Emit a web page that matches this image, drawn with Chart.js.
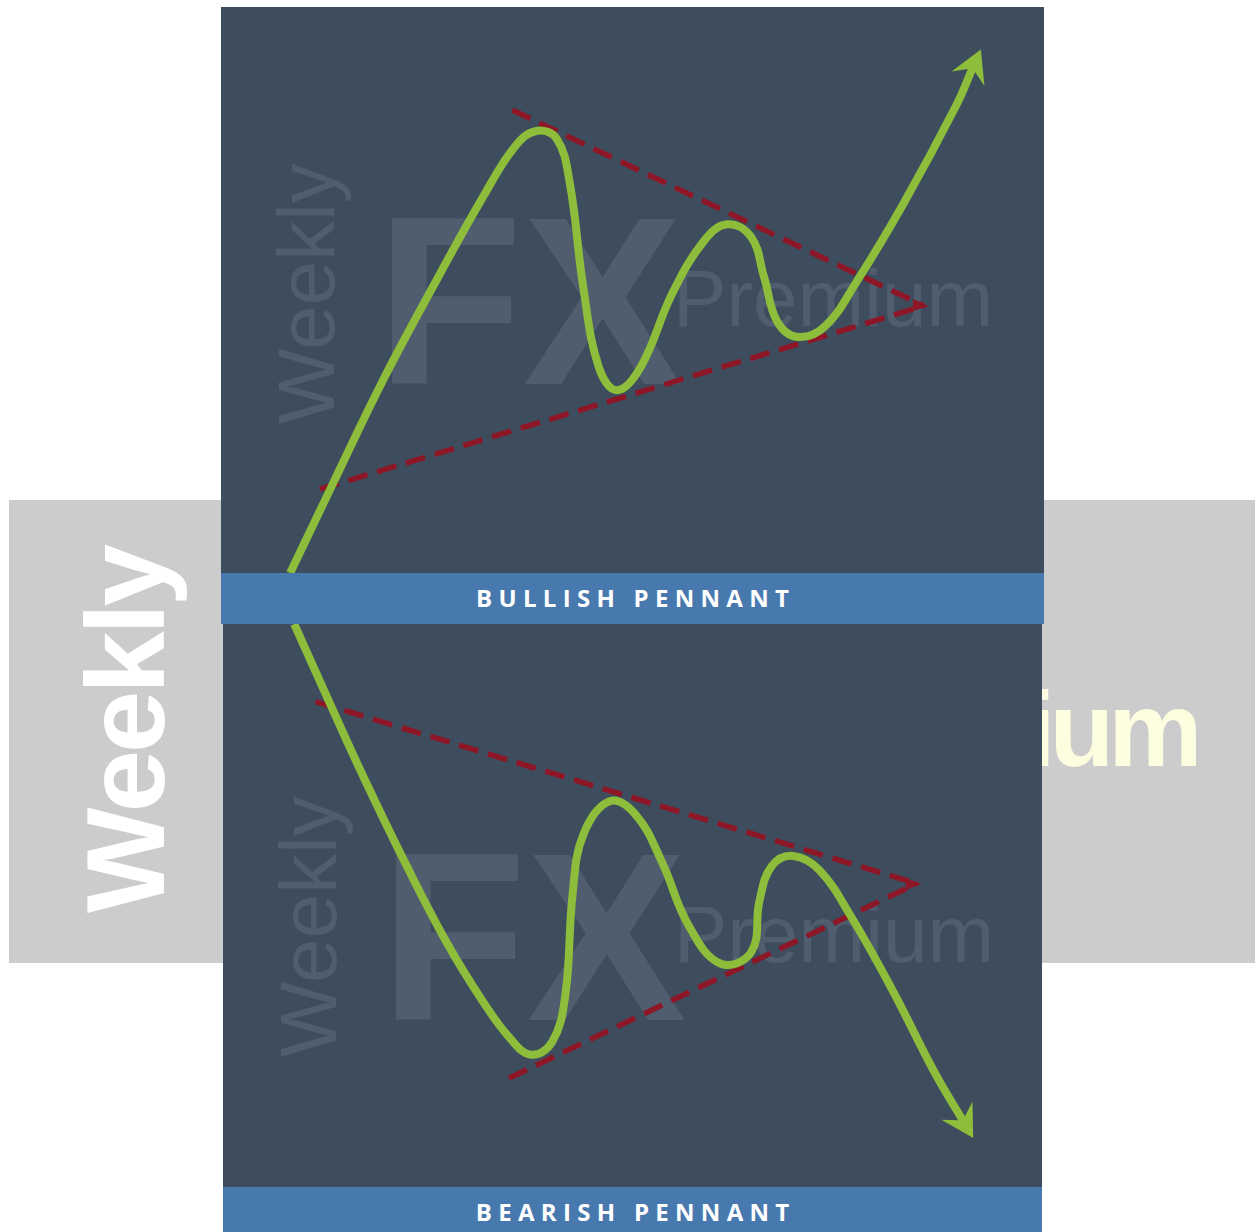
<!DOCTYPE html>
<html>
<head>
<meta charset="utf-8">
<title>Bullish / Bearish Pennant</title>
<script src="https://cdn.jsdelivr.net/npm/chart.js@4.4.1/dist/chart.umd.min.js"></script>
<style>
    html, body { margin: 0; padding: 0; background: #ffffff; }
    body { width: 1255px; height: 1232px; position: relative; overflow: hidden; font-family: "Liberation Sans", Arial, sans-serif; }

    .band { position: absolute; left: 9px; top: 500px; width: 1246px; height: 463px; background: #cccccc; }
    .band-word { position: absolute; font-weight: bold; line-height: 1; white-space: nowrap; }
    .band-weekly { left: 70px; top: 913px; font-size: 112px; color: #ffffff; letter-spacing: -3px; transform-origin: 0 0; transform: rotate(-90deg); }
    .band-premium { left: 785px; top: 676px; font-size: 106px; color: #fdfde0; letter-spacing: -6px; }

    .panel { position: absolute; background: #3e4d5e; overflow: hidden; }
    .panel canvas { position: absolute; left: 0; top: 0; }
    .mark { position: absolute; line-height: 1; white-space: nowrap; color: #4f5d6e; }
    .mark-weekly { font-size: 80px; transform-origin: 0 0; transform: rotate(-90deg); }
    .mark-fx { font-size: 240px; font-weight: bold; }
    .mark-premium { font-size: 80px; }

    .banner { position: absolute; background: #4879ae; color: #ffffff; text-align: center; overflow: hidden;
              font-family: "Open Sans", sans-serif; font-weight: bold; font-size: 24px; line-height: 50px;
              letter-spacing: 6.3px; padding-left: 6.3px; box-sizing: border-box; }
</style>
</head>
<body>

<div class="band"></div>
<div class="band-word band-weekly">Weekly</div>
<div class="band-word band-premium">Premium</div>

<div class="panel" style="left:221px; top:7px; width:823px; height:566px;">
    <div class="mark mark-weekly" style="left:46px; top:417px;">Weekly</div>
    <div class="mark mark-fx" style="left:155px; top:174px;">FX</div>
    <div class="mark mark-premium" style="left:452px; top:252px;">Premium</div>
    <canvas id="bullChart" width="823" height="566"></canvas>
</div>
<div class="banner" id="bullBanner" style="left:221px; top:573px; width:823px; height:51px;"></div>

<div class="panel" style="left:223px; top:624px; width:819px; height:563px;">
    <div class="mark mark-weekly" style="left:46px; top:433px;">Weekly</div>
    <div class="mark mark-fx" style="left:157px; top:193px;">FX</div>
    <div class="mark mark-premium" style="left:451px; top:271px;">Premium</div>
    <canvas id="bearChart" width="819" height="563"></canvas>
</div>
<div class="banner" id="bearBanner" style="left:223px; top:1187px; width:819px; height:50px;"></div>

<script>
// --- Data (x: time, y: price, both on a 0-100 scale per panel) ---
const titles = ['BULLISH PENNANT', 'BEARISH PENNANT'];

const bullX = [8.4, 13.7, 19.7, 25.8, 31.9, 35.7, 38.3, 40.8, 42.4, 44.0, 45.9, 48.1, 51.0,
               54.8, 58.7, 61.5, 64.4, 66.0, 67.6, 70.1, 73.4, 77.2, 82.9, 89.3, 91.3];
const bullY = [0.0, 16.1, 34.1, 50.7, 66.6, 75.3, 78.1, 76.7, 68.7, 50.7, 36.4, 32.3, 36.4,
               49.3, 58.7, 61.6, 59.4, 52.2, 44.4, 41.7, 43.6, 51.4, 65.2, 82.5, 89.1];
const bullUpperX = [35.4, 85.4];
const bullUpperY = [81.8, 47.2];
const bullLowerX = [12.0, 85.4];
const bullLowerY = [14.8, 47.2];

const bearX = [8.7, 13.2, 17.1, 22.2, 27.4, 31.8, 35.0, 37.6, 40.2, 41.8, 42.7, 44.0, 47.2,
               50.4, 53.6, 56.8, 60.7, 64.5, 65.5, 67.0, 69.6, 72.8, 76.7, 81.8, 86.9, 90.3];
const bearY = [100.0, 85.4, 73.0, 57.7, 43.2, 32.8, 26.5, 23.5, 25.8, 34.1, 52.2, 62.6, 68.5,
               66.1, 57.7, 46.6, 39.7, 41.7, 50.8, 57.0, 58.8, 56.3, 48.0, 34.8, 20.3, 11.9];
const bearUpperX = [11.3, 84.7];
const bearUpperY = [86.2, 53.9];
const bearLowerX = [34.9, 84.7];
const bearLowerY = [19.3, 53.9];

// --- Colours ---
const GREEN = '#8dbd3b';
const RED = '#8d1727';

function toPoints(xs, ys) {
    return xs.map((x, i) => ({ x: x, y: ys[i] }));
}

// Arrow heads: green arrow at the end of the price path,
// small red triangle where the two trend lines meet
const arrowHeads = {
    id: 'arrowHeads',
    afterDatasetsDraw(chart) {
        const ctx = chart.ctx;
        const path = chart.getDatasetMeta(0).data;
        const a = path[path.length - 2], b = path[path.length - 1];
        let dx = b.x - a.x, dy = b.y - a.y;
        let len = Math.hypot(dx, dy);
        const ux = dx / len, uy = dy / len, nx = -uy, ny = ux;

        ctx.save();
        ctx.fillStyle = GREEN;
        ctx.beginPath();
        ctx.moveTo(b.x + ux * 21, b.y + uy * 21);
        ctx.lineTo(b.x - ux * 11 + nx * 18, b.y - uy * 11 + ny * 18);
        ctx.lineTo(b.x - ux * 2 + nx * 4, b.y - uy * 2 + ny * 4);
        ctx.lineTo(b.x - ux * 2 - nx * 4, b.y - uy * 2 - ny * 4);
        ctx.lineTo(b.x - ux * 11 - nx * 18, b.y - uy * 11 - ny * 18);
        ctx.closePath();
        ctx.fill();

        // apex of the pennant
        let sx = 0, sy = 0, apex = null;
        [1, 2].forEach(i => {
            const pts = chart.getDatasetMeta(i).data;
            const p = pts[0], q = pts[pts.length - 1];
            const l = Math.hypot(q.x - p.x, q.y - p.y);
            sx += (q.x - p.x) / l;
            sy += (q.y - p.y) / l;
            apex = q;
        });
        len = Math.hypot(sx, sy);
        const vx = sx / len, vy = sy / len;
        const tx = apex.x + vx * 5, ty = apex.y + vy * 5;
        ctx.fillStyle = RED;
        ctx.beginPath();
        ctx.moveTo(tx, ty);
        ctx.lineTo(tx - vx * 16 - vy * 6, ty - vy * 16 + vx * 6);
        ctx.lineTo(tx - vx * 16 + vy * 6, ty - vy * 16 - vx * 6);
        ctx.closePath();
        ctx.fill();
        ctx.restore();
    }
};

function makeChart(id, pathX, pathY, upX, upY, loX, loY) {
    const trendLine = {
        showLine: true,
        borderColor: RED,
        borderWidth: 5.5,
        borderDash: [20, 10],
        pointRadius: 0,
        tension: 0
    };
    return new Chart(document.getElementById(id), {
        type: 'scatter',
        data: {
            datasets: [
                {
                    label: 'Price',
                    data: toPoints(pathX, pathY),
                    showLine: true,
                    borderColor: GREEN,
                    borderWidth: 8,
                    borderJoinStyle: 'round',
                    pointRadius: 0,
                    tension: 0.4
                },
                Object.assign({ label: 'Resistance', data: toPoints(upX, upY) }, trendLine),
                Object.assign({ label: 'Support', data: toPoints(loX, loY) }, trendLine)
            ]
        },
        options: {
            responsive: false,
            animation: false,
            devicePixelRatio: 1,
            layout: { padding: 0 },
            plugins: { legend: { display: false }, tooltip: { enabled: false } },
            scales: {
                x: { type: 'linear', min: 0, max: 100, display: false },
                y: { type: 'linear', min: 0, max: 100, display: false }
            }
        },
        plugins: [arrowHeads]
    });
}

document.getElementById('bullBanner').textContent = titles[0];
document.getElementById('bearBanner').textContent = titles[1];

makeChart('bullChart', bullX, bullY, bullUpperX, bullUpperY, bullLowerX, bullLowerY);
makeChart('bearChart', bearX, bearY, bearUpperX, bearUpperY, bearLowerX, bearLowerY);
</script>
</body>
</html>
